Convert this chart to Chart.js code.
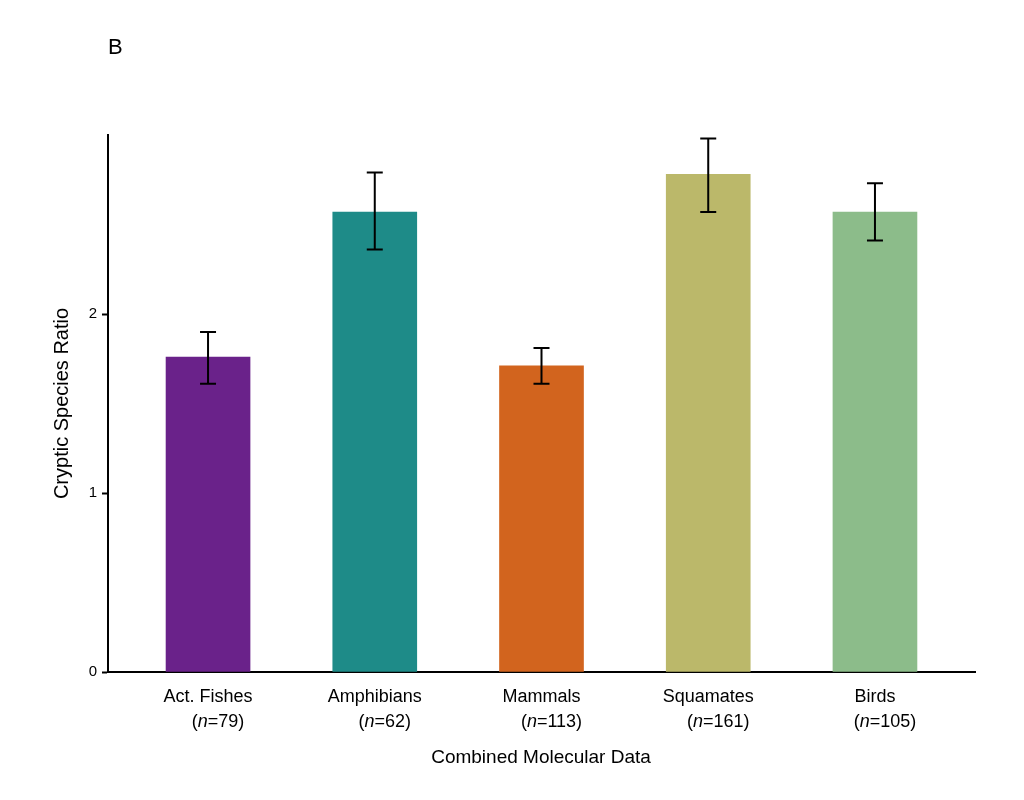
<!DOCTYPE html>
<html><head><meta charset="utf-8">
<script src="https://cdn.jsdelivr.net/npm/chart.js@4/dist/chart.umd.min.js"></script>
<style>html,body{margin:0;background:#fff}#w{width:1024px;height:800px}</style>
</head><body><div id="w"><canvas id="c"></canvas></div>
<script>
const categories = ["Act. Fishes","Amphibians","Mammals","Squamates","Birds"];
const sampleSizes = ["79","62","113","161","105"];
const ratios = [1.76, 2.57, 1.71, 2.78, 2.57];
const errLow = [1.61, 2.36, 1.61, 2.57, 2.41];
const errHigh = [1.90, 2.79, 1.81, 2.98, 2.73];
const colors = ["#6a228a","#1e8b88","#d2641e","#bbb86a","#8cbc8a"];
const FONT = "'Liberation Sans', Arial, sans-serif";

const extras = {
  id:'extras',
  afterDatasetsDraw(chart){
    const ctx = chart.ctx, x = chart.scales.x, y = chart.scales.y;
    ctx.save();
    ctx.strokeStyle = '#000'; ctx.lineWidth = 2;
    categories.forEach((c,i)=>{
      const px = x.getPixelForValue(i);
      const lo = y.getPixelForValue(errLow[i]), hi = y.getPixelForValue(errHigh[i]);
      ctx.beginPath();
      ctx.moveTo(px,lo); ctx.lineTo(px,hi);
      ctx.moveTo(px-8,lo); ctx.lineTo(px+8,lo);
      ctx.moveTo(px-8,hi); ctx.lineTo(px+8,hi);
      ctx.stroke();
      ctx.fillStyle='#000'; ctx.textBaseline='alphabetic';
      ctx.font = '18px '+FONT; ctx.textAlign='center';
      ctx.fillText(c, px, 702);
      const a='(', n='n', b='='+sampleSizes[i]+')';
      ctx.font='18px '+FONT; const wa=ctx.measureText(a).width, wb=ctx.measureText(b).width;
      ctx.font='italic 18px '+FONT; const wn=ctx.measureText(n).width;
      let sx = px + 10 - (wa+wn+wb)/2;
      ctx.textAlign='left';
      ctx.font='18px '+FONT; ctx.fillText(a,sx,727); sx+=wa;
      ctx.font='italic 18px '+FONT; ctx.fillText(n,sx,727); sx+=wn;
      ctx.font='18px '+FONT; ctx.fillText(b,sx,727);
    });
    ctx.textAlign='center'; ctx.font='19px '+FONT;
    ctx.fillText('Combined Molecular Data', 541, 763);
    ctx.textAlign='left'; ctx.font='22px '+FONT;
    ctx.fillText('B', 108, 54);
    ctx.restore();
  }
};

new Chart(document.getElementById('c'), {
  type:'bar',
  data:{datasets:[{data:ratios.map((v,i)=>({x:i,y:v})), backgroundColor:colors, barThickness:84}]},
  options:{
    responsive:true, maintainAspectRatio:false, animation:false,
    layout:{padding:{left:50,right:49,top:135,bottom:128}},
    plugins:{legend:{display:false},tooltip:{enabled:false}},
    scales:{
      x:{type:'linear', min:-0.6, max:4.6, offset:false, ticks:{display:false}, grid:{display:false}, border:{color:'#000',width:2},
         afterFit(s){s.height=0;}},
      y:{min:0,max:3, afterFit(s){s.width=58;},
         ticks:{stepSize:1, color:'#000', font:{size:15,family:FONT}, padding:5,
                callback:v=> v===3?'':v},
         grid:{drawOnChartArea:false, tickLength:6, tickWidth:2, color:c=>c.tick && c.tick.value===3?'rgba(0,0,0,0)':'#000'},
         border:{color:'#000',width:2},
         title:{display:true,text:'Cryptic Species Ratio',color:'#000',font:{size:20,family:FONT},padding:{top:0,bottom:4}}}
    }
  },
  plugins:[extras]
});
</script></body></html>
